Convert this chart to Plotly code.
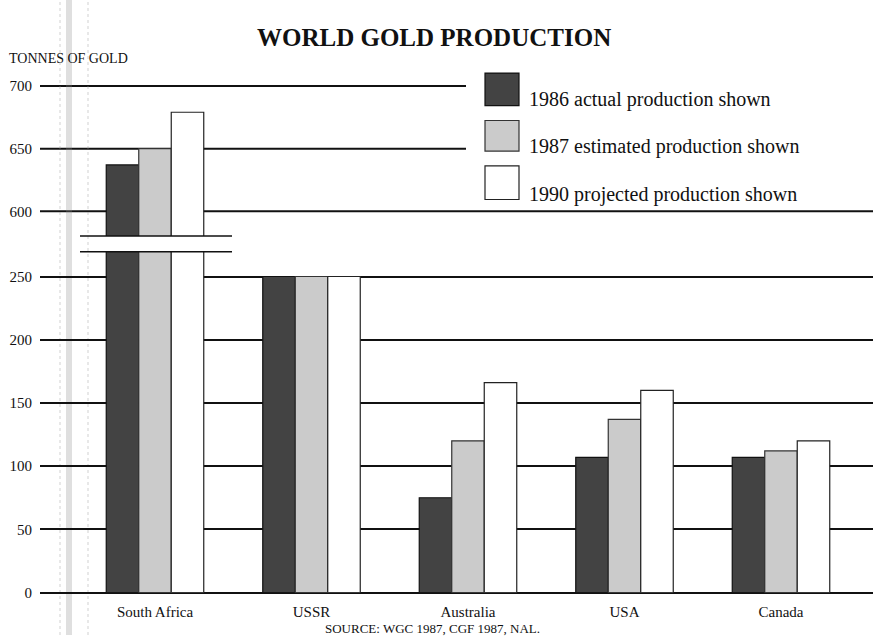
import plotly.graph_objects as go

# ---- data -------------------------------------------------------------
countries = ["South Africa", "USSR", "Australia", "USA", "Canada"]
prod_1986 = [637, 250, 75, 107, 107]     # actual
prod_1987 = [650, 250, 120, 137, 112]    # estimated
prod_1990 = [679, 250, 166, 160, 120]    # projected

series_names = ["1986 actual production shown",
                "1987 estimated production shown",
                "1990 projected production shown"]

lower_ticks = [0, 50, 100, 150, 200, 250]
upper_ticks = [600, 650, 700]

# ---- page geometry (pixels) ------------------------------------------
W, H = 873, 643
SERIF = "Liberation Serif, Times New Roman, serif"


def px(x):
    return x / W


def py(y):
    return 1 - y / H


fills = ["#434343", "#cbcbcb", "#ffffff"]
outlines = ["#111111", "#333333", "#222222"]

# category spacing: one category = 156.5 px, first group centred at x=155
unit = 156.5
x_lo = -(155 - 40) / unit
x_hi = x_lo + (W - 40) / unit

# lower panel: 0 at y=600, 1.28 px per tonne, top at y=255
lo_scale = 1.28
lo_top = (600 - 255) / lo_scale
# upper panel: 600 at y=214, 1.27 px per tonne, spans y=61..239
up_scale = 1.27
up_range = [600 - (239 - 214) / up_scale, 600 + (214 - 61) / up_scale]

fig = go.Figure()
xs = list(range(len(countries)))
for name, vals, fc, lc in zip(series_names, [prod_1986, prod_1987, prod_1990], fills, outlines):
    for xa, ya in (("x", "y"), ("x2", "y2")):
        fig.add_trace(go.Bar(
            x=xs, y=vals, name=name, xaxis=xa, yaxis=ya,
            marker=dict(color=fc, line=dict(color=lc, width=1.2)),
            showlegend=False, hoverinfo="skip",
        ))

shapes = []
# upper-panel rules: 600 runs full width, 650/700 stop short of the key
for v in upper_ticks:
    shapes.append(dict(type="line", xref="paper", yref="y2",
                       x0=px(40), x1=1.0 if v == 600 else px(466), y0=v, y1=v,
                       line=dict(color="#111111", width=2), layer="below"))

# axis break marks
for yb in (239, 255):
    shapes.append(dict(type="line", xref="paper", yref="paper",
                       x0=px(80), x1=px(232), y0=py(yb), y1=py(yb),
                       line=dict(color="#111111", width=1.5)))

# key swatches
key_boxes = [(74, 107), (122, 153), (168, 202)]
for (y0, y1), fc, lc in zip(key_boxes, fills, outlines):
    shapes.append(dict(type="rect", xref="paper", yref="paper",
                       x0=px(485), x1=px(519), y0=py(y1), y1=py(y0),
                       fillcolor=fc, line=dict(color=lc, width=1.2)))

# faint vertical streaks at the left margin
shapes.append(dict(type="rect", xref="paper", yref="paper",
                   x0=px(66), x1=px(72), y0=0, y1=1,
                   fillcolor="rgba(140,140,140,0.28)", line=dict(width=0), layer="below"))
for xv in (60, 88):
    shapes.append(dict(type="line", xref="paper", yref="paper",
                       x0=px(xv), x1=px(xv), y0=0, y1=1,
                       line=dict(color="rgba(150,150,150,0.45)", width=1, dash="dot"),
                       layer="below"))


def label(text, x, y, size, xanchor="left"):
    return dict(text=text, x=px(x), y=py(y), xref="paper", yref="paper",
                xanchor=xanchor, yanchor="middle", showarrow=False,
                font=dict(family=SERIF, size=size, color="#111111"))


annotations = [
    label("<b>WORLD GOLD PRODUCTION</b>", 434, 38, 25, "center"),
    label("TONNES OF GOLD", 7, 59, 14),
    label("SOURCE: WGC 1987, CGF 1987, NAL.", 432, 636, 13, "center"),
]
for name, ty in zip(series_names, (101, 148, 197)):
    annotations.append(label(name, 527, ty, 20))

tickfont = dict(family=SERIF, size=15, color="#111111")

fig.update_layout(
    width=W, height=H,
    margin=dict(l=0, r=0, t=0, b=0),
    paper_bgcolor="white", plot_bgcolor="white",
    barmode="group", bargap=1 - 97.5 / unit, bargroupgap=0,
    showlegend=False,
    shapes=shapes, annotations=annotations,
    xaxis=dict(domain=[px(40), 1], range=[x_lo, x_hi], anchor="y",
               tickvals=xs, ticktext=countries, ticks="", showgrid=False,
               zeroline=False, showline=False, tickfont=tickfont,
               ticklabelstandoff=8),
    xaxis2=dict(domain=[px(40), 1], range=[x_lo, x_hi], anchor="y2",
                showticklabels=False, ticks="", showgrid=False, zeroline=False),
    yaxis=dict(domain=[py(600), py(255)], range=[0, lo_top], anchor="x",
               tickvals=lower_ticks, ticks="", showgrid=True,
               gridcolor="#111111", gridwidth=2, zeroline=True,
               zerolinecolor="#111111", zerolinewidth=2, showline=False,
               tickfont=tickfont, ticklabelstandoff=7),
    yaxis2=dict(domain=[py(239), py(61)], range=up_range, anchor="x2",
                tickvals=upper_ticks, ticks="", showgrid=False, zeroline=False,
                showline=False, tickfont=tickfont, ticklabelstandoff=7),
)

fig.write_html("out.html")
